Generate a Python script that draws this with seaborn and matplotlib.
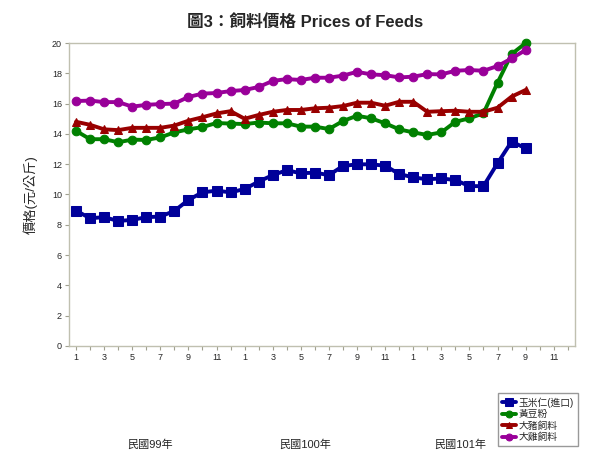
import numpy as np
import pandas as pd
import matplotlib
matplotlib.use("Agg")
import matplotlib.pyplot as plt
import seaborn as sns

# 民國99年1月 ~ 民國101年9月
months = list(range(1, 13)) + list(range(1, 13)) + list(range(1, 10))
year_labels = ["民國99年", "民國100年", "民國101年"]
tick_labels = ["1", "", "3", "", "5", "", "7", "", "9", "", "11", ""] * 3

corn = [8.93, 8.43, 8.5, 8.25, 8.32, 8.5, 8.54, 8.91, 9.64, 10.14, 10.25, 10.14,
        10.36, 10.85, 11.28, 11.6, 11.4, 11.44, 11.28, 11.88, 11.99, 11.99, 11.9, 11.35,
        11.13, 11.0, 11.06, 10.95, 10.55, 10.55, 12.06, 13.49, 13.05]
soy = [14.2, 13.65, 13.65, 13.45, 13.62, 13.6, 13.77, 14.1, 14.3, 14.45, 14.72, 14.68,
       14.65, 14.75, 14.7, 14.7, 14.48, 14.48, 14.32, 14.85, 15.2, 15.03, 14.7, 14.3,
       14.1, 13.93, 14.1, 14.8, 15.03, 15.36, 17.38, 19.27, 20.0]
pig = [14.8, 14.6, 14.3, 14.25, 14.4, 14.4, 14.4, 14.55, 14.87, 15.1, 15.35, 15.5,
       15.0, 15.25, 15.46, 15.58, 15.58, 15.69, 15.73, 15.84, 16.06, 16.06, 15.86, 16.12,
       16.12, 15.46, 15.5, 15.53, 15.46, 15.46, 15.73, 16.46, 16.9]
chicken = [16.17, 16.2, 16.1, 16.1, 15.8, 15.92, 15.97, 16.0, 16.44, 16.66, 16.7, 16.83,
           16.9, 17.1, 17.5, 17.62, 17.56, 17.71, 17.71, 17.85, 18.1, 17.93, 17.88, 17.73,
           17.78, 17.95, 17.93, 18.17, 18.22, 18.17, 18.48, 18.98, 19.54]

names = ["玉米仁(進口)", "黃豆粉", "大豬飼料", "大雞飼料"]
colors = ["#000099", "#008000", "#990000", "#990099"]
markers = ["s", "o", "^", "o"]

idx = np.arange(len(months))
df = pd.DataFrame({"idx": np.tile(idx, 4),
                   "price": corn + soy + pig + chicken,
                   "name": np.repeat(names, len(idx))})

sns.set_style("white")
plt.rcParams['font.family'] = ['Liberation Sans', 'Noto Sans CJK TC', 'DejaVu Sans']

fig = plt.figure(figsize=(6, 4.68), dpi=100)
ax = fig.add_axes([0.115, 0.261, 0.843, 0.647])

for name, c, m in zip(names, colors, markers):
    sub = df[df["name"] == name]
    ms = 6.8 if m == "s" else 6.2
    sns.lineplot(data=sub, x="idx", y="price", ax=ax, color=c, marker=m,
                 markersize=ms, markeredgecolor=c, linewidth=2.8, label=name,
                 clip_on=False, zorder=3)

ax.set_xlim(-0.5, 35.5)
ax.set_ylim(0, 20)
ax.set_yticks(range(0, 21, 2))
ax.set_xticks(range(36))
ax.set_xticklabels(tick_labels)
ax.tick_params(axis="both", labelsize=6.5, length=3, color="#a0a090", direction="out",
               bottom=True, left=True, pad=2)
for s in ax.spines.values():
    s.set_color("#c0c0b0")
    s.set_linewidth(1)
ax.set_xlabel("")
ax.set_ylabel("價格(元/公斤)", fontsize=9.5, labelpad=10)

fig.text(0.508, 0.953, "圖3：飼料價格 Prices of Feeds", ha="center", va="center",
         fontsize=12, fontweight="bold")
for i, t in enumerate(year_labels):
    fig.text((150 + i * 155) / 600, 1 - 445 / 468, t, ha="center", va="center", fontsize=8)

ax.legend(loc="lower right", bbox_to_anchor=(0.972, 0.036), bbox_transform=fig.transFigure,
          fontsize=7, frameon=True, fancybox=False, edgecolor="#808080",
          handlelength=1.4, handletextpad=0.3, borderpad=0.45, labelspacing=0.15,
          markerscale=0.8)

fig.savefig("out.png", dpi=100)
